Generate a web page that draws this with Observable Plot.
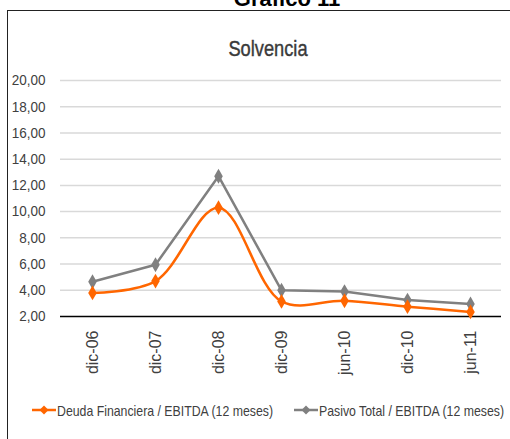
<!DOCTYPE html>
<html><head><meta charset="utf-8">
<script src="https://cdn.jsdelivr.net/npm/d3@7"></script>
<script src="https://cdn.jsdelivr.net/npm/@observablehq/plot@0.6"></script>
<style>
html,body{margin:0;padding:0;background:#fff;}
#root{position:relative;width:510px;height:439px;overflow:hidden;font-family:"Liberation Sans",Arial,sans-serif;}
#frame{position:absolute;left:7px;top:10px;width:600px;height:500px;border:1.5px solid #222;box-sizing:border-box;}
#sup{position:absolute;left:0;width:574px;top:-14px;text-align:center;font:bold 22px "Liberation Sans",Arial,sans-serif;color:#000;}
#title{position:absolute;left:0;width:536px;top:36px;text-align:center;font-size:22px;color:#3a3a3a;-webkit-text-stroke:0.4px #3a3a3a;transform:scaleX(0.83);transform-origin:268px 0;}
#chart{position:absolute;left:0;top:0;}
#legend{position:absolute;left:0;top:395px;}
</style></head>
<body><div id="root">
<div id="frame"></div>
<div id="sup">Gráfico 11</div>
<div id="title">Solvencia</div>
<div id="chart"></div>
<div id="legend"></div>
</div>
<script>
const periods = ["dic-06","dic-07","dic-08","dic-09","jun-10","dic-10","jun-11"];
const deudaFinanciera = [3.8, 4.7, 10.3, 3.15, 3.2, 2.75, 2.35];
const pasivoTotal = [4.65, 5.95, 12.7, 4.0, 3.9, 3.25, 2.95];
const seriesNames = ["Deuda Financiera / EBITDA (12 meses)", "Pasivo Total / EBITDA (12 meses)"];
const seriesColors = ["#ff6600", "#808080"];
const yTicks = [2,4,6,8,10,12,14,16,18,20];

const dataA = periods.map((p,i)=>({period:p, value:deudaFinanciera[i]}));
const dataB = periods.map((p,i)=>({period:p, value:pasivoTotal[i]}));
const fmt = v => v.toFixed(2).replace(".", ",");

const chart = Plot.plot({
  width: 510, height: 400,
  marginTop: 80, marginBottom: 84, marginLeft: 60, marginRight: 9,
  style: {fontFamily: '"Liberation Sans",Arial,sans-serif', fontSize: "15px", color: "#404040", background: "transparent"},
  x: {type: "point", domain: periods, padding: 0.5, label: null},
  y: {domain: [2, 20], label: null},
  marks: [
    Plot.ruleY(yTicks.filter(t=>t>2), {stroke: "#d9d9d9", strokeWidth: 1.5}),
    Plot.ruleY([2], {stroke: "#000", strokeWidth: 1.3}),
    Plot.axisY({ticks: yTicks, tickFormat: fmt, tickSize: 0, tickPadding: 15, fontSize: 15}),
    Plot.axisX({tickRotate: -90, tickSize: 0, tickPadding: 14, fontSize: 16}),
    Plot.line(dataB, {x: "period", y: "value", stroke: seriesColors[1], strokeWidth: 2.5}),
    Plot.dot(dataB, {x: "period", y: "value", symbol: "diamond", r: 4.5, fill: seriesColors[1]}),
    Plot.line(dataA, {x: "period", y: "value", stroke: seriesColors[0], strokeWidth: 2.5, curve: "catmull-rom"}),
    Plot.dot(dataA, {x: "period", y: "value", symbol: "diamond", r: 4.5, fill: seriesColors[0]})
  ]
});
document.getElementById("chart").appendChild(chart);

// condense y tick labels to mimic a narrow typeface
d3.select(chart).selectAll("g[aria-label='y-axis tick label'] text").each(function(){
  const w = this.getComputedTextLength();
  this.setAttribute("textLength", w * 0.9);
  this.setAttribute("lengthAdjust", "spacingAndGlyphs");
});

// legend
const lsvg = d3.select("#legend").append("svg").attr("width", 510).attr("height", 30)
  .style("font-family", '"Liberation Sans",Arial,sans-serif').style("font-size", "15px");
const itemX = [32, 294];
seriesNames.forEach((name,i)=>{
  const g = lsvg.append("g").attr("transform", `translate(${itemX[i]},15)`);
  g.append("line").attr("x1",0).attr("x2",24).attr("y1",0).attr("y2",0).attr("stroke",seriesColors[i]).attr("stroke-width",2.5);
  g.append("path").attr("d","M12,-4.5L16.5,0L12,4.5L7.5,0Z").attr("fill",seriesColors[i]);
  const t = g.append("text").attr("x",25).attr("y",5.5).attr("fill","#404040").text(name);
  const w = t.node().getComputedTextLength();
  t.attr("textLength", w*0.82).attr("lengthAdjust","spacingAndGlyphs");
});
</script>
</body></html>
